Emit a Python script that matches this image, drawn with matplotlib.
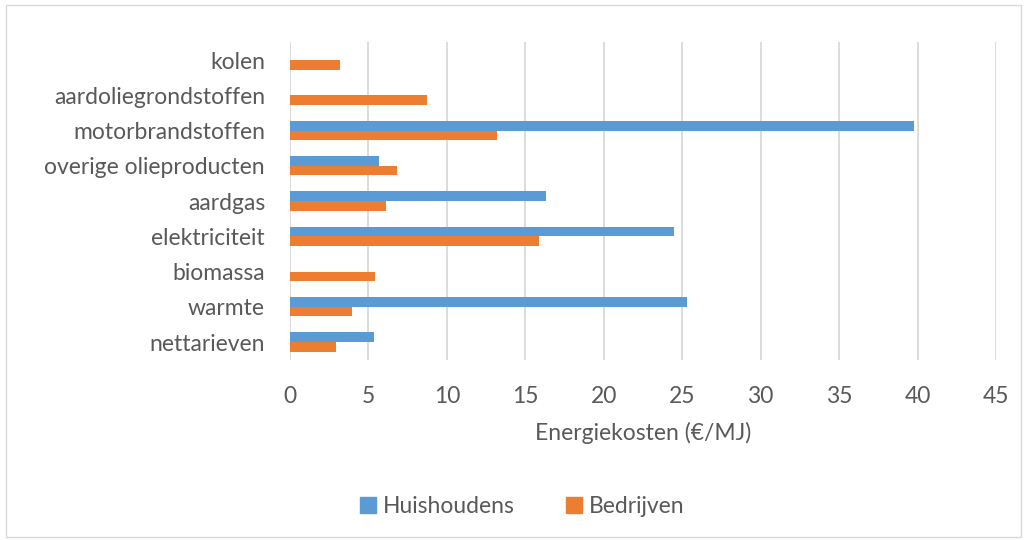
import matplotlib.pyplot as plt
import numpy as np
from matplotlib.lines import Line2D
from matplotlib.patches import Rectangle

categories = ["kolen", "aardoliegrondstoffen", "motorbrandstoffen", "overige olieproducten",
              "aardgas", "elektriciteit", "biomassa", "warmte", "nettarieven"]
huishoudens = [0, 0, 39.75, 5.7, 16.3, 24.45, 0, 25.3, 5.35]
bedrijven = [3.2, 8.75, 13.2, 6.8, 6.1, 15.9, 5.4, 3.95, 2.9]
xticks = list(range(0, 50, 5))
series = ["Huishoudens", "Bedrijven"]

BLUE = "#5b9bd5"
ORANGE = "#ed7d31"
TEXT = "#595959"
FS = 16.5

plt.rcParams["font.family"] = ["Lato", "DejaVu Sans"]

fig = plt.figure(figsize=(10.27, 5.4), dpi=100)
ax = fig.add_axes([0.2824, 0.334, 0.6874, 0.5875])

y = np.arange(len(categories))[::-1].astype(float)
h = 0.27
ax.barh(y + h / 2, huishoudens, height=h, color=BLUE, zorder=3)
ax.barh(y - h / 2, bedrijven, height=h, color=ORANGE, zorder=3)

ax.set_xlim(0, 45)
ax.set_ylim(-0.5, len(categories) - 0.5)
ax.set_xticks(xticks)
ax.set_yticks(y)
ax.set_yticklabels(categories)
ax.tick_params(axis="both", length=0, labelsize=FS, labelcolor=TEXT)
ax.tick_params(axis="x", pad=19)
ax.tick_params(axis="y", pad=18)
ax.grid(axis="x", color="#d9d9d9", linewidth=1.3, zorder=0)
for s in ax.spines.values():
    s.set_visible(False)
ax.set_xlabel("Energiekosten (€/MJ)", fontsize=FS, color=TEXT, labelpad=11)

handles = [Line2D([], [], marker="s", linestyle="", markersize=11, color=c) for c in (BLUE, ORANGE)]
leg = fig.legend(handles, series, loc="center", bbox_to_anchor=(0.508, 0.062), ncol=2, frameon=False,
                 fontsize=FS, numpoints=1, handlelength=0.8, columnspacing=2.2, handletextpad=0.25)
for t in leg.get_texts():
    t.set_color(TEXT)

fig.patches.append(Rectangle((0.006, 0.006), 0.988, 0.985, transform=fig.transFigure,
                             fill=False, edgecolor="#d9d9d9", linewidth=1))

fig.savefig("out.png", dpi=100)
